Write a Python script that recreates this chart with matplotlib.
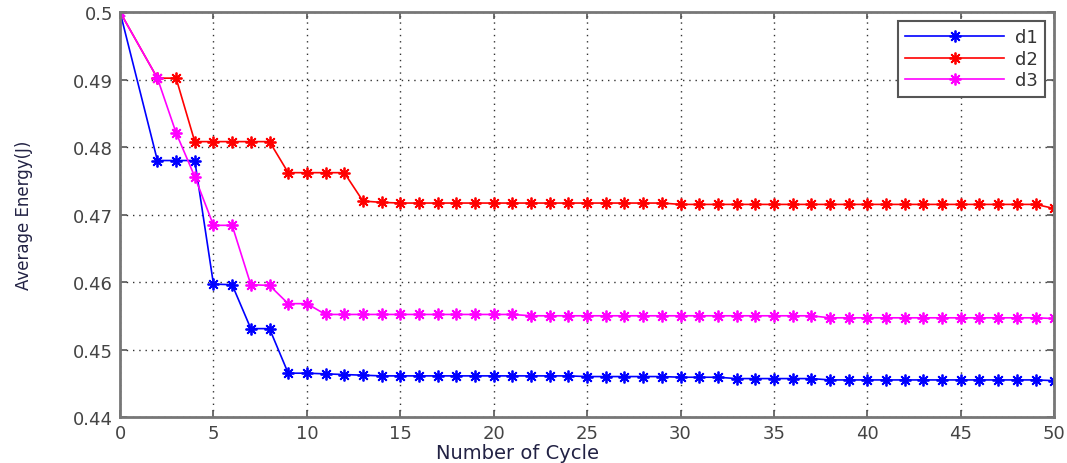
import matplotlib.pyplot as plt

# Dados (x = ciclo; não há ponto no ciclo 1)
cycles = [0, 2, 3, 4, 5, 6, 7, 8, 9, 10, 11, 12, 13, 14, 15, 16, 17, 18, 19, 20,
          21, 22, 23, 24, 25, 26, 27, 28, 29, 30, 31, 32, 33, 34, 35, 36, 37, 38, 39, 40,
          41, 42, 43, 44, 45, 46, 47, 48, 49, 50]

d1 = [0.5, 0.478, 0.478, 0.478, 0.4597, 0.4596, 0.4531, 0.4531, 0.4465, 0.4465,
      0.4464, 0.4463, 0.4462, 0.4461, 0.4461, 0.4461, 0.4461, 0.4461, 0.4461, 0.4461,
      0.4461, 0.4461, 0.4461, 0.4461, 0.4460, 0.4460, 0.4460, 0.4460, 0.4460, 0.4459,
      0.4459, 0.4459, 0.4457, 0.4457, 0.4457, 0.4457, 0.4457, 0.4455, 0.4455, 0.4455,
      0.4455, 0.4455, 0.4455, 0.4455, 0.4455, 0.4455, 0.4455, 0.4455, 0.4455, 0.4454]

d2 = [0.5, 0.4902, 0.4902, 0.4808, 0.4808, 0.4808, 0.4808, 0.4808, 0.4762, 0.4762,
      0.4762, 0.4762, 0.4720, 0.4718, 0.4717, 0.4717, 0.4717, 0.4717, 0.4717, 0.4717,
      0.4717, 0.4717, 0.4717, 0.4717, 0.4717, 0.4717, 0.4717, 0.4717, 0.4717, 0.4715,
      0.4715, 0.4715, 0.4715, 0.4715, 0.4715, 0.4715, 0.4715, 0.4715, 0.4715, 0.4715,
      0.4715, 0.4715, 0.4715, 0.4715, 0.4715, 0.4715, 0.4715, 0.4715, 0.4715, 0.4709]

d3 = [0.5, 0.4902, 0.4821, 0.4756, 0.4684, 0.4684, 0.4596, 0.4595, 0.4568, 0.4568,
      0.4552, 0.4552, 0.4552, 0.4552, 0.4552, 0.4552, 0.4552, 0.4552, 0.4552, 0.4552,
      0.4552, 0.4550, 0.4550, 0.4550, 0.4550, 0.4550, 0.4550, 0.4550, 0.4550, 0.4550,
      0.4550, 0.4550, 0.4550, 0.4550, 0.4550, 0.4550, 0.4550, 0.4547, 0.4547, 0.4547,
      0.4547, 0.4547, 0.4547, 0.4547, 0.4547, 0.4547, 0.4547, 0.4547, 0.4547, 0.4546]

xticks = [0, 5, 10, 15, 20, 25, 30, 35, 40, 45, 50]
yticks = [0.44, 0.45, 0.46, 0.47, 0.48, 0.49, 0.5]
ytick_labels = ['0.44', '0.45', '0.46', '0.47', '0.48', '0.49', '0.5']

fig = plt.figure(figsize=(10.67, 4.64), dpi=100)
ax = fig.add_axes([0.1125, 0.099, 0.8755, 0.873])

# marcador tipo '*' do MATLAB (+ e x sobrepostos)
estrela = (8, 2, 0)
ax.plot(cycles, d1, '-', color='blue', marker=estrela, markersize=8.5, markeredgewidth=1.3, linewidth=1.2, label='d1')
ax.plot(cycles, d2, '-', color='red', marker=estrela, markersize=8.5, markeredgewidth=1.3, linewidth=1.2, label='d2')
ax.plot(cycles, d3, '-', color='magenta', marker=estrela, markersize=8.5, markeredgewidth=1.3, linewidth=1.2, label='d3')

ax.set_xlim(0, 50)
ax.set_ylim(0.44, 0.5)
ax.set_xticks(xticks)
ax.set_yticks(yticks)
ax.set_yticklabels(ytick_labels)

ax.grid(True, linestyle=(0, (1, 3.5)), color='#333333', linewidth=1.0)
ax.tick_params(direction='in', top=True, right=True, colors='#555555', labelsize=13,
               length=5, width=1.2, labelcolor='#444444', pad=5)
for s in ax.spines.values():
    s.set_color('#777777')
    s.set_linewidth(2)

ax.set_xlabel('Number of Cycle', fontsize=14, color='#222244')
ax.xaxis.set_label_coords(0.426, -0.065)
ax.set_ylabel('Average Energy(J)', fontsize=12, color='#222244')
ax.yaxis.set_label_coords(-0.093, 0.5)

leg = ax.legend(loc='upper right', fontsize=13, handlelength=5.5, fancybox=False,
                framealpha=1, edgecolor='#555555', borderaxespad=0.5,
                labelspacing=0.2, borderpad=0.4, handletextpad=0.6)
leg.get_frame().set_linewidth(1.5)
for t in leg.get_texts():
    t.set_color('#333333')

plt.savefig('out.png', dpi=100)
